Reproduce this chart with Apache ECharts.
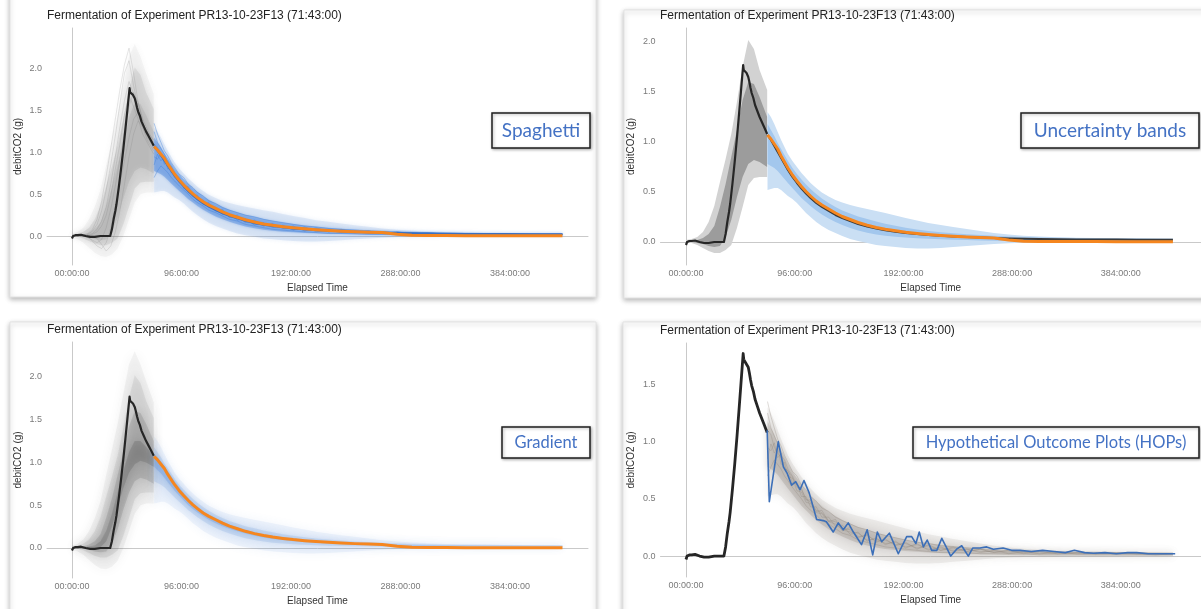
<!DOCTYPE html>
<html><head><meta charset="utf-8">
<script src="https://cdn.jsdelivr.net/npm/echarts@6/dist/echarts.min.js"></script>
<style>html,body{margin:0;padding:0;background:#fff}#c{width:1201px;height:609px}</style>
</head><body><div id="c"></div>
<script>
// ---------------- DATA ----------------
const titleText = 'Fermentation of Experiment PR13-10-23F13 (71:43:00)';
const xTicks = [0, 96, 192, 288, 384];
const yTicks = [0, 0.5, 1, 1.5, 2];
const yTicksHop = [0, 0.5, 1, 1.5];
const methodLabels = ['Spaghetti', 'Uncertainty bands', 'Gradient', 'Hypothetical Outcome Plots (HOPs)'];

// observed debitCO2 (black)
const obsT = [0,1,3,5,8,12,16,20,25,30,33.5,35,36.5,38,39,41,43,45,47,48.5,50.5,51,52,53.5,55,56,57,58,59.5,61,63,65,67,69,71.7];
const obsV = [-0.03,0.0,0.01,0.01,0.015,0.0,-0.01,-0.01,0.0,0.0,0.0,0.08,0.2,0.3,0.38,0.58,0.8,1.04,1.3,1.5,1.77,1.72,1.7,1.69,1.65,1.6,1.54,1.49,1.44,1.37,1.31,1.25,1.2,1.15,1.08];

// historical ensemble quantiles (gray)
const histT = [0,5,10,15,20,25,30,35,40,45,50,55,60,65,71.7];
const hQ01 = [-0.02,-0.04,-0.08,-0.14,-0.2,-0.24,-0.25,-0.22,-0.15,0.0,0.2,0.4,0.5,0.52,0.52];
const hQ05 = [0,-0.01,-0.03,-0.06,-0.09,-0.11,-0.11,-0.08,-0.03,0.14,0.35,0.57,0.64,0.65,0.65];
const hQ25 = [0,0,-0.01,-0.02,-0.04,-0.05,-0.04,0.05,0.22,0.45,0.65,0.78,0.82,0.8,0.75];
const hQ40 = [0,0,0,0,0,0.01,0.08,0.25,0.48,0.7,0.88,0.98,1.02,1.0,0.95];
const hQ60 = [0,0.01,0.01,0.02,0.03,0.08,0.2,0.4,0.65,0.9,1.12,1.25,1.25,1.18,1.08];
const hQ75 = [0.01,0.01,0.02,0.04,0.08,0.16,0.35,0.58,0.85,1.12,1.42,1.6,1.58,1.45,1.25];
const hQ95 = [0.02,0.03,0.05,0.1,0.2,0.36,0.6,0.83,1.08,1.4,1.75,2.02,1.93,1.72,1.52];
const hQ99 = [0.03,0.05,0.1,0.2,0.35,0.55,0.85,1.15,1.45,1.8,2.15,2.3,2.15,1.95,1.7];

// historical ensemble members (gray spaghetti)
const memT = [10,14,18,22,26,30,34,38,42,46,50,54,58,62,66,71.7];
const hMembers = [
  [0.0,0.01,0.03,0.08,0.18,0.35,0.62,0.95,1.30,1.62,1.85,1.70,1.45,1.30,1.15,1.02],
  [0.0,-0.02,-0.05,-0.08,-0.04,0.10,0.32,0.60,0.92,1.25,1.55,1.72,1.60,1.38,1.20,1.05],
  [0.01,0.02,0.06,0.14,0.30,0.55,0.85,1.20,1.58,1.95,2.10,1.80,1.55,1.35,1.25,1.15],
  [0.0,-0.01,-0.06,-0.12,-0.15,-0.08,0.10,0.35,0.62,0.90,1.18,1.40,1.48,1.35,1.22,1.10],
  [0.0,0.0,0.02,0.05,0.12,0.25,0.48,0.80,1.10,1.45,1.68,1.55,1.40,1.22,1.12,0.98],
  [0.0,0.01,0.0,-0.03,-0.10,-0.18,-0.12,0.05,0.30,0.62,0.95,1.22,1.38,1.30,1.18,1.06],
  [0.01,0.03,0.08,0.20,0.42,0.72,1.05,1.40,1.75,2.05,2.25,1.95,1.60,1.40,1.28,1.12]
];

// forecast (from 71:43:00)
const fcT = [72,75,78,81,84,87,90,94,98,102,106,110,115,120,126,132,138,145,152,160,168,176,185,194,204,214,225,236,248,260,272,285,298,312,328,345,362,380,398,415,430];
const fcMedian = [1.07,1.03,0.98,0.93,0.86,0.80,0.74,0.67,0.61,0.555,0.505,0.46,0.41,0.37,0.33,0.29,0.255,0.225,0.195,0.168,0.145,0.128,0.112,0.098,0.086,0.076,0.066,0.058,0.051,0.046,0.041,0.02,0.008,0.006,0.005,0.004,0.004,0.003,0.003,0.003,0.003];
const fcMean = [1.07,1.02,0.96,0.90,0.84,0.78,0.72,0.65,0.59,0.535,0.485,0.44,0.39,0.35,0.31,0.27,0.24,0.21,0.18,0.155,0.135,0.118,0.103,0.09,0.079,0.07,0.062,0.055,0.049,0.044,0.04,0.036,0.033,0.03,0.028,0.026,0.025,0.024,0.023,0.022,0.022];
const fcQ05 = [0.52,0.53,0.54,0.54,0.52,0.49,0.46,0.43,0.39,0.34,0.29,0.25,0.20,0.16,0.12,0.09,0.06,0.03,0.01,-0.01,-0.03,-0.04,-0.05,-0.06,-0.065,-0.065,-0.06,-0.05,-0.04,-0.03,-0.02,-0.012,-0.008,-0.005,-0.003,-0.002,-0.002,-0.001,0,0,0];
const fcQ25 = [0.78,0.76,0.74,0.71,0.67,0.63,0.59,0.54,0.49,0.44,0.40,0.36,0.315,0.275,0.235,0.20,0.17,0.14,0.115,0.092,0.075,0.062,0.052,0.044,0.037,0.032,0.027,0.023,0.019,0.016,0.013,0.01,0.008,0.007,0.006,0.006,0.005,0.005,0.005,0.005,0.005];
const fcQ40 = [0.95,0.91,0.87,0.82,0.77,0.72,0.67,0.61,0.555,0.50,0.455,0.415,0.37,0.33,0.29,0.255,0.225,0.195,0.168,0.143,0.122,0.106,0.092,0.08,0.07,0.061,0.053,0.046,0.04,0.035,0.031,0.027,0.024,0.022,0.02,0.019,0.018,0.017,0.016,0.016,0.016];
const fcQ60 = [1.10,1.06,1.01,0.96,0.90,0.84,0.78,0.71,0.645,0.585,0.53,0.485,0.43,0.39,0.35,0.31,0.275,0.243,0.213,0.185,0.162,0.142,0.125,0.11,0.097,0.086,0.076,0.067,0.059,0.053,0.048,0.043,0.039,0.036,0.033,0.031,0.029,0.028,0.027,0.026,0.026];
const fcQ75 = [1.18,1.12,1.06,0.99,0.93,0.87,0.81,0.74,0.68,0.625,0.575,0.53,0.48,0.435,0.39,0.35,0.315,0.285,0.255,0.23,0.205,0.183,0.162,0.143,0.126,0.111,0.098,0.087,0.077,0.069,0.062,0.056,0.05,0.046,0.042,0.039,0.037,0.035,0.034,0.033,0.032];
const fcQ95 = [1.30,1.25,1.18,1.10,1.02,0.95,0.88,0.81,0.75,0.69,0.64,0.59,0.54,0.495,0.455,0.42,0.395,0.37,0.35,0.33,0.31,0.29,0.265,0.24,0.215,0.19,0.17,0.15,0.13,0.11,0.09,0.075,0.063,0.055,0.048,0.043,0.04,0.037,0.035,0.034,0.033];

// forecast ensemble members (spaghetti)
const fcMembers = [
  [1.25,1.12,1.05,0.98,0.88,0.84,0.76,0.70,0.62,0.58,0.50,0.47,0.40,0.38,0.31,0.30,0.24,0.23,0.17,0.18,0.13,0.14,0.10,0.11,0.07,0.09,0.05,0.07,0.04,0.06,0.03,0.05,0.02,0.04,0.02,0.03,0.02,0.03,0.02,0.02,0.02],
  [0.85,0.98,0.90,0.95,0.80,0.82,0.70,0.68,0.57,0.56,0.47,0.46,0.38,0.37,0.30,0.28,0.23,0.21,0.20,0.14,0.15,0.11,0.12,0.08,0.10,0.06,0.07,0.05,0.06,0.03,0.05,0.02,0.04,0.02,0.03,0.02,0.02,0.02,0.03,0.02,0.02],
  [1.10,1.06,0.95,0.90,0.86,0.76,0.75,0.64,0.63,0.52,0.52,0.43,0.43,0.34,0.34,0.26,0.27,0.19,0.21,0.13,0.16,0.10,0.13,0.07,0.11,0.05,0.08,0.04,0.06,0.04,0.04,0.03,0.03,0.02,0.03,0.02,0.02,0.02,0.02,0.01,0.02],
  [0.70,0.78,0.84,0.80,0.76,0.70,0.66,0.60,0.55,0.50,0.44,0.40,0.36,0.31,0.28,0.24,0.20,0.18,0.14,0.12,0.10,0.08,0.07,0.06,0.05,0.04,0.03,0.03,0.03,0.02,0.02,0.02,0.02,0.01,0.01,0.01,0.01,0.01,0.01,0.01,0.01],
  [1.35,1.22,1.12,1.02,0.96,0.88,0.82,0.74,0.70,0.62,0.58,0.52,0.48,0.42,0.39,0.34,0.31,0.28,0.25,0.23,0.20,0.18,0.16,0.14,0.12,0.11,0.09,0.08,0.07,0.06,0.05,0.04,0.04,0.03,0.03,0.03,0.03,0.02,0.02,0.02,0.02],
  [0.95,0.92,0.99,0.86,0.90,0.78,0.74,0.69,0.60,0.59,0.49,0.49,0.39,0.40,0.30,0.32,0.22,0.25,0.16,0.19,0.12,0.15,0.09,0.12,0.06,0.10,0.05,0.08,0.04,0.06,0.03,0.05,0.03,0.04,0.02,0.03,0.02,0.03,0.02,0.02,0.02]
];

// one hypothetical outcome (HOP)
const hopT = [71.7,73.6,81.5,86,89.5,93.3,96.9,100.7,104.2,108.9,115.4,121.3,124,130,134.5,138.9,143.3,147.8,155,160,164.9,169,172.8,179.6,187.5,194.9,199.3,203,206,209.6,213,217,221.5,225.9,230.3,233.8,239,243.5,249.3,253.2,259.6,265.5,271.4,280,287.6,295,305,315,325,335,343,352,360,370,380,390,398,408,418,432];
const hopV = [1.10,0.475,1.0,0.78,0.72,0.62,0.65,0.58,0.66,0.55,0.32,0.31,0.30,0.21,0.29,0.23,0.29,0.21,0.10,0.23,0.01,0.21,0.125,0.20,0.02,0.17,0.17,0.11,0.21,0.08,0.14,0.05,0.05,0.155,0.07,0.0,0.06,0.09,0.0,0.07,0.07,0.08,0.06,0.07,0.05,0.05,0.04,0.05,0.04,0.03,0.05,0.03,0.025,0.03,0.02,0.03,0.03,0.02,0.02,0.02];

// ---------------- CHART ----------------
const FONT = '"Liberation Sans", Arial, sans-serif';
const zip = (xs, ys) => xs.map((x, i) => [x, ys[i]]);
const hh = v => (v < 10 ? '0' + v : '' + v) + ':00:00';

function line(g, xs, ys, color, width, opacity) {
  return { type: 'line', xAxisIndex: g, yAxisIndex: g, data: zip(xs, ys), symbol: 'none', showSymbol: false,
    silent: true, clip: true, lineStyle: { color: color, width: width, opacity: opacity == null ? 1 : opacity, join: 'round' } };
}
function band(g, xs, lo, hi, color, opacity, blur) {
  return { type: 'custom', xAxisIndex: g, yAxisIndex: g, silent: true, clip: true,
    data: [[xs[0], lo[0]]], encode: { x: 0, y: 1 },
    renderItem: function (params, api) {
      const pts = [];
      for (let i = 0; i < xs.length; i++) pts.push(api.coord([xs[i], hi[i]]));
      for (let i = xs.length - 1; i >= 0; i--) pts.push(api.coord([xs[i], lo[i]]));
      const st = { fill: color, opacity: opacity };
      if (blur) { st.shadowBlur = blur; st.shadowColor = color; }
      return { type: 'polygon', shape: { points: pts }, style: st };
    } };
}

const grids = [
  { left: 47, top: 28, width: 541, height: 237 },
  { left: 660.5, top: 28, width: 540.5, height: 237 },
  { left: 47, top: 342, width: 541, height: 236 },
  { left: 660.5, top: 343, width: 540.5, height: 234 }
];
const xRanges = [[-21.9, 452.4], [-22.5, 454.8], [-21.9, 452.4], [-22.5, 454.8]];
const yRanges = [[-0.347, 2.491], [-0.23, 2.14], [-0.351, 2.409], [-0.183, 1.862]];

const xAxes = grids.map((g, i) => ({
  type: 'value', gridIndex: i, min: xRanges[i][0], max: xRanges[i][1],
  axisLine: { show: true, lineStyle: { color: '#c9c9c9', width: 1 } },
  axisTick: { show: false }, splitLine: { show: false },
  axisLabel: { customValues: xTicks, formatter: hh, fontSize: 9, color: '#7a7a7a', margin: 4, fontFamily: FONT },
  name: 'Elapsed Time', nameLocation: 'middle', nameGap: 18,
  nameTextStyle: { fontSize: 10, color: '#333', fontFamily: FONT }
}));
const yAxes = grids.map((g, i) => ({
  type: 'value', gridIndex: i, min: yRanges[i][0], max: yRanges[i][1],
  axisLine: { show: true, lineStyle: { color: '#c9c9c9', width: 1 } },
  axisTick: { show: false }, splitLine: { show: false },
  axisLabel: { customValues: i === 3 ? yTicksHop : yTicks, formatter: v => v.toFixed(1), fontSize: 9, color: '#7a7a7a', margin: 5, fontFamily: FONT },
  name: 'debitCO2 (g)', nameLocation: 'middle', nameGap: 24, nameRotate: 90,
  nameTextStyle: { fontSize: 10, color: '#333', fontFamily: FONT }
}));

const series = [];
// ---- Panel 1: Spaghetti
series.push(band(0, histT, hQ01, hQ99, '#666', 0.05, 6));
series.push(band(0, histT, hQ05, hQ95, '#555', 0.10, 6));
series.push(band(0, histT, hQ25, hQ75, '#555', 0.10, 6));
hMembers.forEach(m => series.push(line(0, memT, m, '#707070', 0.7, 0.25)));
series.push(band(0, fcT, fcQ05, fcQ95, '#5b8fd6', 0.14, 4));
series.push(band(0, fcT, fcQ25, fcQ75, '#3f7fd9', 0.35, 3));
fcMembers.forEach(m => series.push(line(0, fcT, m, '#3f7fd9', 0.8, 0.5)));
series.push(line(0, fcT, fcMean, '#3a6fc0', 1.8, 1));
series.push(line(0, obsT, obsV, '#262626', 2.2));
series.push(line(0, fcT, fcMedian, '#F5861F', 3));
// ---- Panel 2: Uncertainty bands
series.push(band(1, histT, hQ05, hQ95, '#d2d2d2', 1));
series.push(band(1, histT, hQ25, hQ75, '#9c9c9c', 1));
series.push(band(1, fcT, fcQ05, fcQ95, '#cadff4', 1));
series.push(band(1, fcT, fcQ25, fcQ75, '#a3c7ed', 1));
series.push(line(1, fcT, fcMean, '#3a3a3a', 2));
series.push(line(1, obsT, obsV, '#262626', 2.2));
series.push(line(1, fcT, fcMedian, '#F5861F', 3));
// ---- Panel 3: Gradient
series.push(band(2, histT, hQ01, hQ99, '#444', 0.05, 12));
series.push(band(2, histT, hQ05, hQ95, '#444', 0.09, 12));
series.push(band(2, histT, hQ25, hQ75, '#444', 0.15, 10));
series.push(band(2, histT, hQ40, hQ60, '#444', 0.2, 8));
series.push(band(2, fcT, fcQ05, fcQ95, '#4a7fd0', 0.07, 10));
series.push(band(2, fcT, fcQ25, fcQ75, '#4a7fd0', 0.14, 8));
series.push(band(2, fcT, fcQ40, fcQ60, '#4a7fd0', 0.22, 5));
series.push(line(2, obsT, obsV, '#262626', 2.2));
series.push(line(2, fcT, fcMedian, '#F5861F', 3));
// ---- Panel 4: HOPs
series.push(band(3, fcT, fcQ05, fcQ95, '#8d847b', 0.12, 8));
series.push(band(3, fcT, fcQ25, fcQ75, '#8d847b', 0.25, 6));
fcMembers.forEach(m => series.push(line(3, fcT, m, '#8d847b', 1, 0.3)));
series.push(line(3, obsT, obsV, '#262626', 2.8));
series.push(line(3, hopT, hopV, '#3c6fb8', 1.6));

// cards and annotation boxes
const cards = [
  [10, -10, 586, 307], [624, 10, 600, 288], [10, 322, 586, 300], [623, 322, 600, 300]
].map(r => ({ type: 'rect', z: -10, silent: true, shape: { x: r[0], y: r[1], width: r[2], height: r[3] },
  style: { fill: '#fff', stroke: '#e3e3e3', lineWidth: 1, shadowBlur: 5, shadowColor: 'rgba(0,0,0,0.28)', shadowOffsetY: 2 } }));
const boxes = [[492, 113, 98, 35, 19], [1021, 113, 178, 35, 19], [502, 427, 88, 31, 16.5], [913, 427, 286, 31, 16.5]];
const annotations = boxes.map((b, i) => ({ type: 'group', z: 100, silent: true, children: [
  { type: 'rect', shape: { x: b[0], y: b[1], width: b[2], height: b[3] },
    style: { fill: '#fff', stroke: '#1e1e1e', lineWidth: 1.5, shadowBlur: 3, shadowColor: 'rgba(0,0,0,0.3)', shadowOffsetX: 1, shadowOffsetY: 1 } },
  { type: 'text', x: b[0] + b[2] / 2, y: b[1] + b[3] / 2,
    style: { text: methodLabels[i], fill: '#4472C4', fontSize: b[4], fontFamily: 'Lato, "Open Sans", sans-serif', align: 'center', verticalAlign: 'middle' } }
] }));

const titles = [[47, 10], [660, 10], [47, 324], [660, 325]].map(p => ({
  text: titleText, left: p[0], top: p[1], padding: 0,
  textStyle: { fontSize: 12, fontWeight: 'normal', color: '#222', fontFamily: FONT }
}));

const chart = echarts.init(document.getElementById('c'), null, { renderer: 'canvas' });
chart.setOption({
  backgroundColor: '#ffffff',
  animation: false,
  title: titles,
  grid: grids,
  xAxis: xAxes,
  yAxis: yAxes,
  series: series,
  graphic: { elements: cards.concat(annotations) }
});
</script></body></html>
